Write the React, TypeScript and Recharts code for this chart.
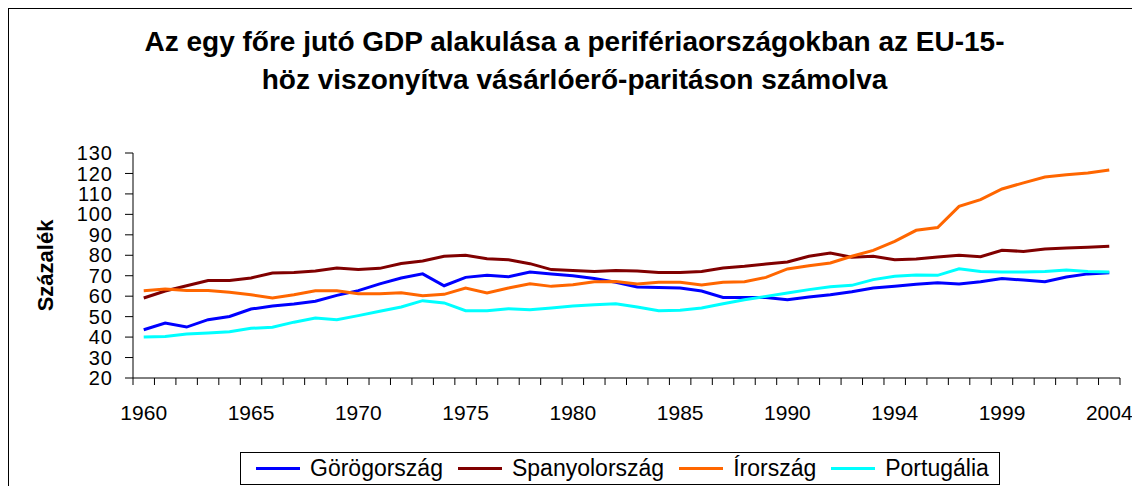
import React from "react";
import { LineChart, Line, XAxis, YAxis } from "recharts";

const years = [
  "1960", "1961", "1962", "1963", "1964", "1965", "1966", "1967", "1968", "1969",
  "1970", "1971", "1972", "1973", "1974", "1975", "1976", "1977", "1978", "1979",
  "1980", "1981", "1982", "1983", "1984", "1985", "1986", "1987", "1988", "1989",
  "1990", "1991", "1991", "1992", "1993", "1994", "1995", "1996", "1997", "1998",
  "1999", "2000", "2001", "2002", "2003", "2004",
];

const greece = [
  43.6, 46.9, 44.9, 48.5, 50.1, 53.7, 55.2, 56.2, 57.5, 60.4,
  62.7, 66.0, 68.9, 70.9, 65.1, 69.2, 70.2, 69.5, 71.8, 70.9,
  70.0, 68.6, 66.8, 64.5, 64.2, 64.0, 62.5, 59.4, 59.4, 59.4,
  58.3, 59.6, 60.7, 62.2, 64.0, 64.8, 65.8, 66.6, 66.0, 67.1,
  68.6, 67.9, 67.1, 69.4, 70.9, 71.5,
];

const spain = [
  59.1, 62.5, 65.1, 67.7, 67.7, 68.9, 71.3, 71.6, 72.3, 73.8,
  73.0, 73.6, 76.0, 77.2, 79.5, 80.0, 78.3, 77.8, 75.9, 73.0,
  72.6, 72.1, 72.5, 72.3, 71.6, 71.6, 72.1, 73.8, 74.6, 75.7,
  76.7, 79.5, 81.1, 79.0, 79.5, 77.8, 78.2, 79.2, 80.0, 79.3,
  82.4, 81.9, 83.1, 83.6, 83.9, 84.4,
];

const ireland = [
  62.7, 63.5, 62.8, 62.8, 61.9, 60.7, 59.1, 60.7, 62.7, 62.7,
  61.2, 61.2, 61.7, 60.2, 60.9, 64.0, 61.6, 64.0, 66.1, 64.8,
  65.6, 67.1, 67.2, 66.0, 66.8, 66.8, 65.5, 66.8, 67.1, 69.2,
  73.3, 74.9, 76.2, 79.5, 82.4, 86.8, 92.2, 93.6, 103.9, 107.2,
  112.4, 115.4, 118.3, 119.4, 120.2, 121.7,
];

const portugal = [
  40.0, 40.3, 41.5, 42.0, 42.6, 44.3, 44.8, 47.3, 49.3, 48.5,
  50.5, 52.6, 54.7, 57.8, 56.7, 52.9, 52.9, 53.9, 53.4, 54.2,
  55.2, 55.8, 56.3, 54.7, 52.9, 53.1, 54.2, 56.3, 58.3, 59.9,
  61.6, 63.2, 64.6, 65.3, 68.1, 69.7, 70.4, 70.2, 73.4, 72.1,
  71.8, 71.8, 72.1, 72.8, 72.1, 71.8,
];

const yTicks = [20, 30, 40, 50, 60, 70, 80, 90, 100, 110, 120, 130];

const series = [
  { key: "greece", name: "Görögország", color: "#0000FF", values: greece },
  { key: "spain", name: "Spanyolország", color: "#800000", values: spain },
  { key: "ireland", name: "Írország", color: "#FF6600", values: ireland },
  { key: "portugal", name: "Portugália", color: "#00FFFF", values: portugal },
];

const data = years.map((year, i) => {
  const row: Record<string, string | number> = { year };
  series.forEach((s) => {
    row[s.key] = s.values[i];
  });
  return row;
});

const FONT = "Arial, 'Liberation Sans', sans-serif";
const CHART_W = 1131;
const CHART_H = 477;
const MARGIN = { top: 144, right: 20, bottom: 78, left: 34 };
const Y_AXIS_W = 90;
const PLOT_W = CHART_W - MARGIN.left - Y_AXIS_W - MARGIN.right;
const STEP = PLOT_W / years.length;

function XTick(props: any) {
  const { x, y, payload, index } = props;
  const half = STEP / 2;
  return (
    <g>
      <line x1={x - half} y1={y} x2={x - half} y2={y + 7} stroke="#000" />
      {index === years.length - 1 && (
        <line x1={x + half} y1={y} x2={x + half} y2={y + 7} stroke="#000" />
      )}
      {index % 5 === 0 && (
        <text x={x} y={y + 42} textAnchor="middle" fontSize={21} fontFamily={FONT} fill="#000">
          {payload.value}
        </text>
      )}
    </g>
  );
}

function YLabel(props: any) {
  const { viewBox } = props;
  const cx = viewBox.x + 2;
  const cy = viewBox.y + viewBox.height / 2;
  return (
    <text
      x={cx}
      y={cy}
      transform={`rotate(-90, ${cx}, ${cy})`}
      textAnchor="middle"
      dominantBaseline="central"
      fontSize={22}
      fontWeight="bold"
      fontFamily={FONT}
      fill="#000"
    >
      Százalék
    </text>
  );
}

export default function App() {
  return (
    <div
      style={{
        position: "relative",
        width: 1132,
        height: 478,
        borderTop: "1px solid #000",
        borderLeft: "1px solid #000",
        boxSizing: "border-box",
        background: "#fff",
        fontFamily: FONT,
      }}
    >
      <div
        style={{
          position: "absolute",
          top: 14,
          left: 0,
          width: CHART_W,
          textAlign: "center",
          fontWeight: "bold",
          fontSize: 28,
          lineHeight: "38px",
          color: "#000",
        }}
      >
        Az egy főre jutó GDP alakulása a perifériaországokban az EU-15-
        <br />
        höz viszonyítva vásárlóerő-paritáson számolva
      </div>

      <LineChart width={CHART_W} height={CHART_H} data={data} margin={MARGIN}>
        <XAxis
          dataKey="year"
          interval={0}
          tickSize={0}
          tickMargin={0}
          tickLine={false}
          height={30}
          padding={{ left: STEP / 2, right: STEP / 2 }}
          axisLine={{ stroke: "#000" }}
          tick={<XTick />}
        />
        <YAxis
          width={Y_AXIS_W}
          domain={[20, 130]}
          ticks={yTicks}
          interval={0}
          tickSize={8}
          tickMargin={12}
          axisLine={{ stroke: "#000" }}
          tickLine={{ stroke: "#000" }}
          tick={{ fill: "#000", fontSize: 20, fontFamily: FONT, letterSpacing: 1 }}
          label={<YLabel />}
        />
        {series.map((s) => (
          <Line
            key={s.key}
            type="linear"
            dataKey={s.key}
            name={s.name}
            stroke={s.color}
            strokeWidth={3}
            dot={false}
            isAnimationActive={false}
          />
        ))}
      </LineChart>

      <div
        style={{
          position: "absolute",
          left: 231,
          top: 443,
          width: 760,
          height: 33,
          border: "1px solid #000",
          boxSizing: "border-box",
          display: "flex",
          alignItems: "center",
          paddingLeft: 15,
          fontSize: 23,
          color: "#000",
        }}
      >
        {series.map((s) => (
          <div key={s.key} style={{ display: "flex", alignItems: "center", marginRight: 15 }}>
            <span style={{ display: "inline-block", width: 44, height: 3, background: s.color, marginRight: 10 }} />
            <span>{s.name}</span>
          </div>
        ))}
      </div>
    </div>
  );
}
